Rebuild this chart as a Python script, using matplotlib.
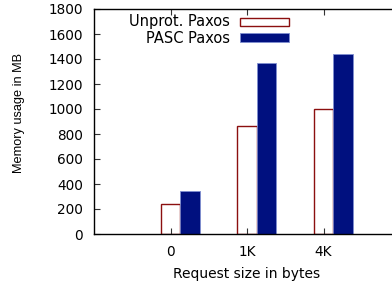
import matplotlib.pyplot as plt
from matplotlib.patches import Rectangle

plt.rcParams['font.family'] = ['DejaVu Sans']

# --- Data ---
categories = ['0', '1K', '4K']
unprot_paxos = [238, 862, 1003]
pasc_paxos = [346, 1372, 1443]
series_labels = ['Unprot. Paxos', 'PASC Paxos']

red = '#8b0f0f'
blue = '#00107f'
bar_w = 0.255

W, H = 392, 288
fig = plt.figure(figsize=(W / 100, H / 100), dpi=100)
# axes run past the right edge, as in the cropped original
ax = fig.add_axes([94 / W, 54 / H, 306 / W, 225 / H])

xs = list(range(len(categories)))
ax.bar(xs, unprot_paxos, width=bar_w, align='center',
       facecolor='white', edgecolor=red, linewidth=1.0)
ax.bar([x + bar_w for x in xs], pasc_paxos, width=bar_w, align='center',
       facecolor=blue, edgecolor='#7f8fd0', linewidth=0.6)

ax.set_xlim(-1, 3)
ax.set_ylim(0, 1800)
ax.set_xticks(xs)
ax.set_xticklabels(categories)
ax.set_yticks(range(0, 1801, 200))
ax.tick_params(direction='in', labelsize=9.8, length=4, width=0.8,
               top=True, right=False, colors='#333333',
               labelcolor='black')
ax.tick_params(axis='y', pad=8)
ax.tick_params(axis='x', pad=8)
for s in ['left', 'top', 'bottom']:
    ax.spines[s].set_linewidth(1.0)
ax.spines['right'].set_visible(False)

ax.set_xlabel('Request size in bytes', fontsize=10, labelpad=6)
ax.set_ylabel('Memory usage in MB', fontsize=9.2, family='Liberation Sans')
ax.yaxis.set_label_coords(25 / W, 1 - 113 / H, transform=fig.transFigure)


# --- Legend drawn by hand (right-aligned text, box sample) ---
def fx(px):
    return px / W


def fy(py):
    return 1 - py / H


rows = [(21.7, 21.7, 8.0, dict(facecolor='white', edgecolor=red, linewidth=1.0)),
        (38.3, 37.4, 9.2, dict(facecolor=blue, edgecolor='#7f8fd0', linewidth=0.6))]
for label, (yt, yb, hb, style) in zip(series_labels, rows):
    fig.text(fx(229.5), fy(yt), label, ha='right', va='center', fontsize=10.5)
    fig.patches.append(Rectangle((fx(239.5), fy(yb + hb / 2)), 49.5 / W, hb / H,
                                 transform=fig.transFigure, **style))

plt.savefig('out.png', dpi=100)
